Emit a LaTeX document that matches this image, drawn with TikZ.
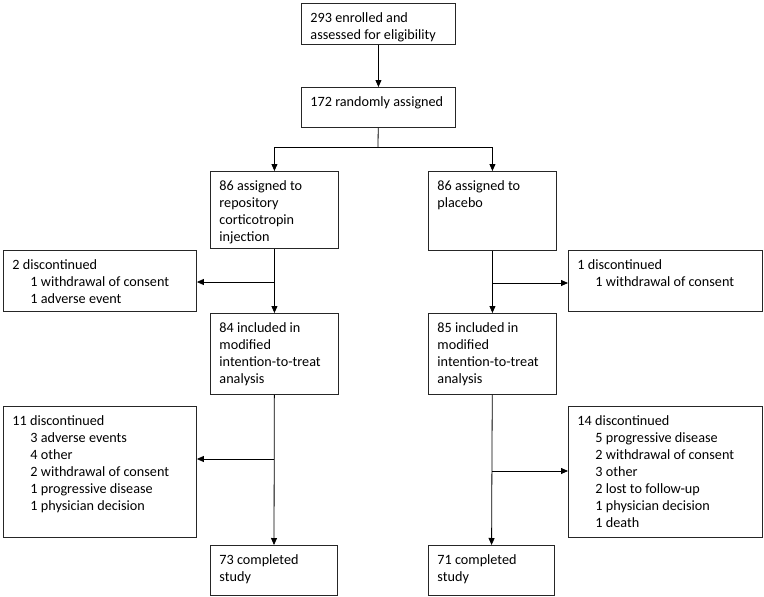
\documentclass[tikz,border=0pt]{standalone}
\usepackage{fontspec}
\setmainfont{Carlito}
\usetikzlibrary{arrows.meta}
\newcommand{\caja}[3]{\parbox[t][#2][t]{#1}{\raggedright #3}}
\newcommand{\ind}{\hspace*{18pt}}

\begin{document}
\begin{tikzpicture}[
        x=1pt, y=-1pt,
        every node/.style={
            draw=black!85,
            line width=0.9pt,
            anchor=north west,
            inner xsep=9pt,
            inner ysep=9pt,
            font=\fontsize{14.2}{17}\selectfont
        },
        flecha/.style={-{Triangle[length=7pt,width=6pt]}, line width=0.8pt}
    ]
    \useasboundingbox (0,0) rectangle (764,597);

    % Cajas
    \node (enroll) at (301,3)   {\caja{136pt}{23pt}{293 enrolled and\\assessed for eligibility}};
    \node (random) at (301,87)  {\caja{136pt}{22pt}{172 randomly assigned}};
    \node (rci)    at (210,171) {\caja{110pt}{59pt}{86 assigned to\\repository\\corticotropin\\injection}};
    \node (plac)   at (428,171) {\caja{110pt}{61pt}{86 assigned to\\placebo}};
    \node (discAL) at (3,250)   {\caja{175pt}{43pt}{2 discontinued\\\ind 1 withdrawal of consent\\\ind 1 adverse event}};
    \node (discAR) at (568,250) {\caja{176pt}{43pt}{1 discontinued\\\ind 1 withdrawal of consent}};
    \node (mittL)  at (210,313) {\caja{110pt}{63pt}{84 included in\\modified\\intention-to-treat\\analysis}};
    \node (mittR)  at (428,313) {\caja{110pt}{63pt}{85 included in\\modified\\intention-to-treat\\analysis}};
    \node (discBL) at (3,406)   {\caja{175pt}{113pt}{11 discontinued\\\ind 3 adverse events\\\ind 4 other\\\ind 2 withdrawal of consent\\\ind 1 progressive disease\\\ind 1 physician decision}};
    \node (discBR) at (568,406) {\caja{176pt}{113pt}{14 discontinued\\\ind 5 progressive disease\\\ind 2 withdrawal of consent\\\ind 3 other\\\ind 2 lost to follow-up\\\ind 1 physician decision\\\ind 1 death}};
    \node (compL)  at (210,545) {\caja{109pt}{32pt}{73 completed\\study}};
    \node (compR)  at (428,545) {\caja{108pt}{32pt}{71 completed\\study}};

    % Puntos de ramificación
    \coordinate (split) at (378,147);
    \coordinate (bAL) at (274,282);
    \coordinate (bAR) at (492,283);
    \coordinate (bBL) at (274,459);
    \coordinate (bBR) at (492,471);

    % Flechas
    \draw[flecha] (enroll) -- (random);
    \draw[line width=0.8pt] (random) -- (split);
    \draw[flecha] (split) -| (rci);
    \draw[flecha] (split) -| (plac);
    \draw[flecha] (rci) -- (mittL);
    \draw[flecha] (plac) -- (mittR);
    \draw[flecha] (bAL) -- (bAL -| discAL.east);
    \draw[flecha] (bAR) -- (bAR -| discAR.west);
    \draw[flecha] (mittL) -- (compL);
    \draw[flecha] (mittR) -- (compR);
    \draw[flecha] (bBL) -- (bBL -| discBL.east);
    \draw[flecha] (bBR) -- (bBR -| discBR.west);

\end{tikzpicture}
\end{document}
